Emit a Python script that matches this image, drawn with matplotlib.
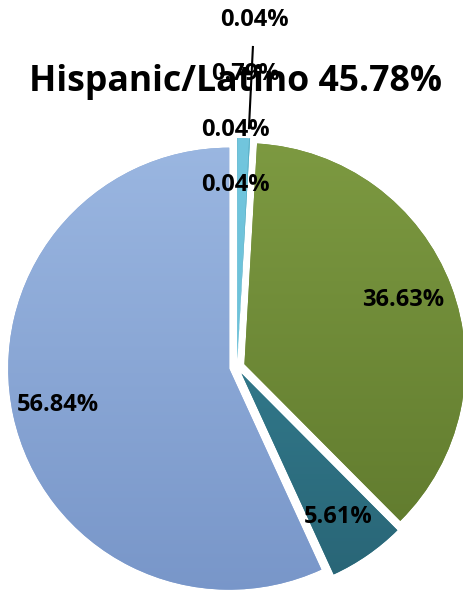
import matplotlib
matplotlib.use("Agg")
import matplotlib.pyplot as plt
import matplotlib.colors as mcolors
import numpy as np

title = "Hispanic/Latino 45.78%"
values = [0.04, 0.79, 0.04, 0.04, 36.63, 5.61, 56.84]
labels = ["0.04%", "0.79%", "0.04%", "0.04%", "36.63%", "5.61%", "56.84%"]
# (top colour, bottom colour) for a soft vertical gradient per slice
colors_top = ["#4bacc6", "#72c6de", "#4bacc6", "#4bacc6", "#7e9b42", "#3a8c9f", "#9cb8e2"]
colors_bot = ["#4bacc6", "#66bcd4", "#4bacc6", "#4bacc6", "#5c762b", "#286374", "#7795c8"]
explode = [0.036] * len(values)

# label positions (axes data units, pie radius = 1)
label_pos = [(0.081, 1.570), (0.036, 1.326), (-0.005, 1.072), (-0.005, 0.824),
             (0.751, 0.303), (0.457, -0.679), (-0.810, -0.172)]

W, H = 464, 593
R = 221.0
cx, cy = 237.0, 367.0

plt.rcParams['font.family'] = ['Open Sans', 'DejaVu Sans']
fig = plt.figure(figsize=(W / 100, H / 100), dpi=100)
ax = fig.add_axes([0, 0, 1, 1])

mid_colors = [tuple((np.array(mcolors.to_rgb(a)) + np.array(mcolors.to_rgb(b))) / 2)
              for a, b in zip(colors_top, colors_bot)]
wedges, _ = ax.pie(values, colors=mid_colors, explode=explode, startangle=90,
                   counterclock=False, radius=1.0,
                   wedgeprops=dict(edgecolor='none', linewidth=0))

for w, ct, cb in zip(wedges, colors_top, colors_bot):
    t = np.linspace(0, 1, 256)[:, None]
    a = np.array(mcolors.to_rgb(ct))
    b = np.array(mcolors.to_rgb(cb))
    img = (a[None, None, :] * (1 - t[:, :, None]) + b[None, None, :] * t[:, :, None])
    im = ax.imshow(img, extent=[-1.1, 1.1, -1.1, 1.1], origin='upper',
                   aspect='auto', interpolation='bilinear', zorder=w.get_zorder() + 0.1)
    im.set_clip_path(w)

ax.set_xlim(-cx / R, (W - cx) / R)
ax.set_ylim((cy - H) / R, cy / R)
ax.set_aspect('equal', adjustable='datalim')
ax.axis('off')

ax.text(-0.005, 1.290, title, ha='center', va='center', fontsize=25.7,
        fontweight='bold', color='black', zorder=5)

for (lx, ly), lab in zip(label_pos, labels):
    ax.text(lx, ly, lab, ha='center', va='center', fontsize=17,
            fontweight='bold', color='black', zorder=6)

# leader line from top label to the first small slice
ax.plot([0.072, 0.054], [1.448, 1.081], color='black', lw=1.5, zorder=6)

fig.savefig("out.png", dpi=100)
